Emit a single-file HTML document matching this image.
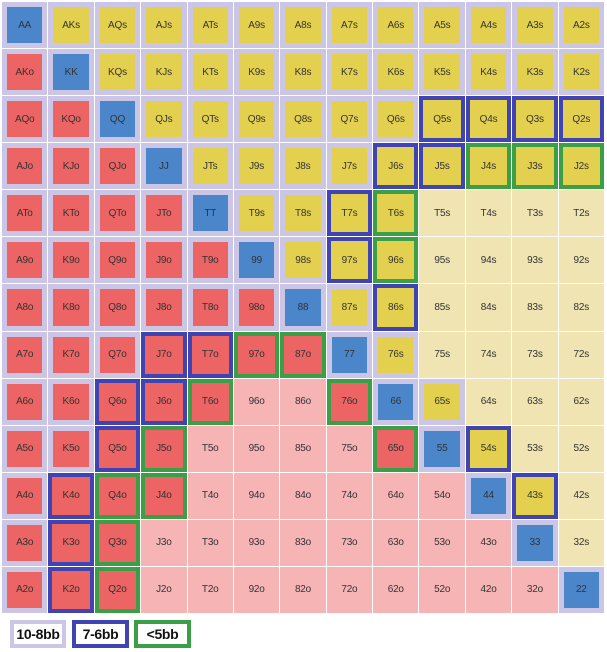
<!DOCTYPE html>
<html><head><meta charset="utf-8"><style>
body{margin:0;width:607px;height:652px;background:#fff;font-family:"Liberation Sans",Arial,sans-serif;position:relative;overflow:hidden}
#g{position:absolute;left:2px;top:2px;width:602px;height:611px;display:grid;grid-template-columns:repeat(13,1fr);grid-template-rows:repeat(13,1fr);gap:1px;background:#fff}
.c{box-sizing:border-box;display:flex;align-items:center;justify-content:center;font-size:10px;color:#333;letter-spacing:-0.2px}
.p{background:#4a86c9;border:5px solid #cbc6e6}
.s{background:#e4d04f;border:5px solid #cbc6e6}
.o{background:#ec6464;border:5px solid #cbc6e6}
.ps{background:#efe4b2}
.po{background:#f7b4b5}
.b{border:4px solid #3f44b2}
.g{border:4px solid #3a9f46}
.lg{position:absolute;top:620px;height:28px;box-sizing:border-box;border:4px solid;display:flex;align-items:center;justify-content:center;font-weight:bold;font-size:14px;color:#111;white-space:nowrap;letter-spacing:-0.3px}
</style></head><body>
<div id="g">
<div class="c p">AA</div><div class="c s">AKs</div><div class="c s">AQs</div><div class="c s">AJs</div><div class="c s">ATs</div><div class="c s">A9s</div><div class="c s">A8s</div><div class="c s">A7s</div><div class="c s">A6s</div><div class="c s">A5s</div><div class="c s">A4s</div><div class="c s">A3s</div><div class="c s">A2s</div>
<div class="c o">AKo</div><div class="c p">KK</div><div class="c s">KQs</div><div class="c s">KJs</div><div class="c s">KTs</div><div class="c s">K9s</div><div class="c s">K8s</div><div class="c s">K7s</div><div class="c s">K6s</div><div class="c s">K5s</div><div class="c s">K4s</div><div class="c s">K3s</div><div class="c s">K2s</div>
<div class="c o">AQo</div><div class="c o">KQo</div><div class="c p">QQ</div><div class="c s">QJs</div><div class="c s">QTs</div><div class="c s">Q9s</div><div class="c s">Q8s</div><div class="c s">Q7s</div><div class="c s">Q6s</div><div class="c s b">Q5s</div><div class="c s b">Q4s</div><div class="c s b">Q3s</div><div class="c s b">Q2s</div>
<div class="c o">AJo</div><div class="c o">KJo</div><div class="c o">QJo</div><div class="c p">JJ</div><div class="c s">JTs</div><div class="c s">J9s</div><div class="c s">J8s</div><div class="c s">J7s</div><div class="c s b">J6s</div><div class="c s b">J5s</div><div class="c s g">J4s</div><div class="c s g">J3s</div><div class="c s g">J2s</div>
<div class="c o">ATo</div><div class="c o">KTo</div><div class="c o">QTo</div><div class="c o">JTo</div><div class="c p">TT</div><div class="c s">T9s</div><div class="c s">T8s</div><div class="c s b">T7s</div><div class="c s g">T6s</div><div class="c ps">T5s</div><div class="c ps">T4s</div><div class="c ps">T3s</div><div class="c ps">T2s</div>
<div class="c o">A9o</div><div class="c o">K9o</div><div class="c o">Q9o</div><div class="c o">J9o</div><div class="c o">T9o</div><div class="c p">99</div><div class="c s">98s</div><div class="c s b">97s</div><div class="c s g">96s</div><div class="c ps">95s</div><div class="c ps">94s</div><div class="c ps">93s</div><div class="c ps">92s</div>
<div class="c o">A8o</div><div class="c o">K8o</div><div class="c o">Q8o</div><div class="c o">J8o</div><div class="c o">T8o</div><div class="c o">98o</div><div class="c p">88</div><div class="c s">87s</div><div class="c s b">86s</div><div class="c ps">85s</div><div class="c ps">84s</div><div class="c ps">83s</div><div class="c ps">82s</div>
<div class="c o">A7o</div><div class="c o">K7o</div><div class="c o">Q7o</div><div class="c o b">J7o</div><div class="c o b">T7o</div><div class="c o g">97o</div><div class="c o g">87o</div><div class="c p">77</div><div class="c s">76s</div><div class="c ps">75s</div><div class="c ps">74s</div><div class="c ps">73s</div><div class="c ps">72s</div>
<div class="c o">A6o</div><div class="c o">K6o</div><div class="c o b">Q6o</div><div class="c o b">J6o</div><div class="c o g">T6o</div><div class="c po">96o</div><div class="c po">86o</div><div class="c o g">76o</div><div class="c p">66</div><div class="c s">65s</div><div class="c ps">64s</div><div class="c ps">63s</div><div class="c ps">62s</div>
<div class="c o">A5o</div><div class="c o">K5o</div><div class="c o b">Q5o</div><div class="c o g">J5o</div><div class="c po">T5o</div><div class="c po">95o</div><div class="c po">85o</div><div class="c po">75o</div><div class="c o g">65o</div><div class="c p">55</div><div class="c s b">54s</div><div class="c ps">53s</div><div class="c ps">52s</div>
<div class="c o">A4o</div><div class="c o b">K4o</div><div class="c o g">Q4o</div><div class="c o g">J4o</div><div class="c po">T4o</div><div class="c po">94o</div><div class="c po">84o</div><div class="c po">74o</div><div class="c po">64o</div><div class="c po">54o</div><div class="c p">44</div><div class="c s b">43s</div><div class="c ps">42s</div>
<div class="c o">A3o</div><div class="c o b">K3o</div><div class="c o g">Q3o</div><div class="c po">J3o</div><div class="c po">T3o</div><div class="c po">93o</div><div class="c po">83o</div><div class="c po">73o</div><div class="c po">63o</div><div class="c po">53o</div><div class="c po">43o</div><div class="c p">33</div><div class="c ps">32s</div>
<div class="c o">A2o</div><div class="c o b">K2o</div><div class="c o g">Q2o</div><div class="c po">J2o</div><div class="c po">T2o</div><div class="c po">92o</div><div class="c po">82o</div><div class="c po">72o</div><div class="c po">62o</div><div class="c po">52o</div><div class="c po">42o</div><div class="c po">32o</div><div class="c p">22</div>
</div>
<div class="lg" style="left:10px;width:56px;border-color:#cbc6e6">10-8bb</div>
<div class="lg" style="left:72px;width:57px;border-color:#3f44b2">7-6bb</div>
<div class="lg" style="left:134px;width:57px;border-color:#3a9f46">&lt;5bb</div>
</body></html>
